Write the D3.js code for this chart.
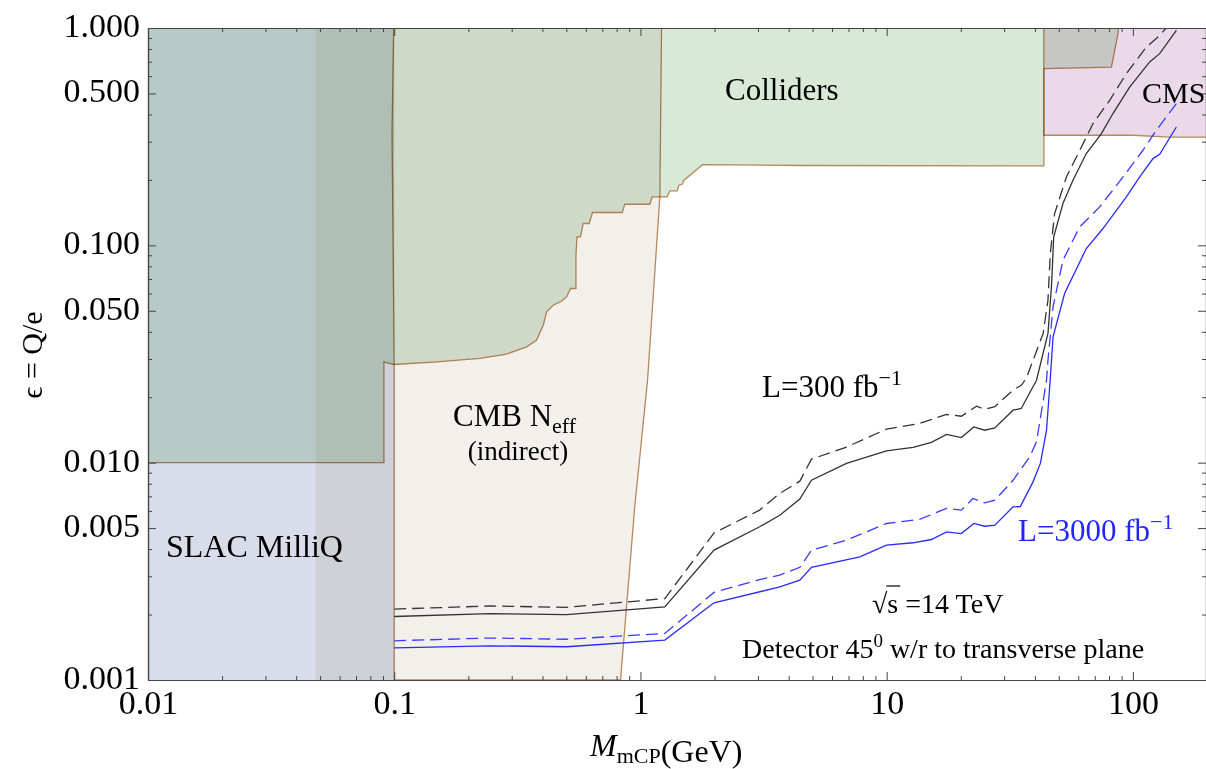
<!DOCTYPE html>
<html>
<head>
<meta charset="utf-8">
<script src="https://cdn.jsdelivr.net/npm/d3@7"></script>
<style>
  body { margin: 0; background: #fff; }
  svg text { font-family: "Liberation Serif", "Times New Roman", serif; fill: #000; }
  .region { mix-blend-mode: multiply; }
</style>
</head>
<body>
<svg id="chart" width="1206" height="769"></svg>
<script>
// ---- data (mass in GeV, epsilon = Q/e) ----
const xTicks = [0.01, 0.1, 1, 10, 100];
const xTickLabels = ["0.01", "0.1", "1", "10", "100"];
const yTicks = [0.001, 0.005, 0.01, 0.05, 0.1, 0.5, 1];
const yTickLabels = ["0.001", "0.005", "0.010", "0.050", "0.100", "0.500", "1.000"];

// excluded regions, outlines as [mass, epsilon]
const slacRegion = [[0.01, 0.001], [0.1, 0.001], [0.1, 1], [0.01, 1]];
const bandRegion = [[0.048, 0.001], [0.1, 0.001], [0.1, 1], [0.048, 1]];
const cmbRegion = [[0.0995, 1], [0.098, 0.33], [0.1, 0.028], [0.1, 0.001], [0.83, 0.001],
  [0.948, 0.00626], [1.069, 0.024], [1.199, 0.167], [1.218, 1]];
const colliderRegion = [[0.01, 1], [0.01, 0.01], [0.0908, 0.01], [0.0908, 0.0291], [0.0997, 0.0283],
  [0.149, 0.0291], [0.223, 0.0302], [0.286, 0.0316], [0.345, 0.0341], [0.378, 0.0366], [0.403, 0.0429],
  [0.416, 0.0494], [0.442, 0.053], [0.478, 0.0553], [0.501, 0.0579], [0.52, 0.0633], [0.547, 0.0633],
  [0.547, 0.0891], [0.552, 0.1093], [0.571, 0.1093], [0.585, 0.126], [0.619, 0.126], [0.639, 0.1416],
  [0.843, 0.1416], [0.864, 0.1545], [1.092, 0.1545], [1.116, 0.167], [1.283, 0.167], [1.316, 0.178],
  [1.41, 0.178], [1.432, 0.189], [1.477, 0.191], [1.5, 0.199], [1.787, 0.235], [4.44, 0.233],
  [43.5, 0.232], [43.5, 0.65], [81.8, 0.661], [87.0, 0.942], [87.4, 1]];
const cmsRegion = [[43.5, 0.321], [100, 0.321], [141, 0.315], [200, 0.315], [200, 1], [43.5, 1]];

// projected sensitivity
const mass300Dashed = [0.1, 0.245, 0.501, 1.256, 1.99, 3.05, 3.68, 4.44, 4.95, 6.87, 9.98, 13.6, 17.5,
  20.1, 23.2, 25.0, 27.5, 32.6, 35.2, 36.9, 43.2, 45.2, 46.2, 48.1, 53.7, 61.8, 68.9, 80.5, 94.1,
  113.5, 124.5, 136.8];
const eps300Dashed = [0.00212, 0.00219, 0.00216, 0.00237, 0.00475, 0.00605, 0.00722, 0.00822, 0.01038,
  0.0118, 0.01426, 0.01515, 0.01666, 0.01636, 0.0182, 0.01762, 0.0181, 0.02155, 0.0227, 0.0244, 0.0393,
  0.0559, 0.0917, 0.14, 0.2064, 0.2836, 0.3634, 0.465, 0.617, 0.818, 0.894, 1.0];

const mass300 = [0.1, 0.245, 0.501, 1.256, 1.99, 3.05, 3.68, 4.44, 4.95, 6.87, 9.98, 12.8, 15.2, 17.5,
  20.1, 22.6, 25.0, 27.5, 32.6, 35.2, 40.6, 42.5, 45.2, 46.7, 47.7, 52.0, 57.1, 64.7, 74.5, 83.0, 97.0,
  117, 128.5, 150.2];
const eps300 = [0.00196, 0.00202, 0.002, 0.00217, 0.00396, 0.00507, 0.00573, 0.0068, 0.0083, 0.00992,
  0.01133, 0.01175, 0.0124, 0.01348, 0.01305, 0.01461, 0.0141, 0.01445, 0.01744, 0.01776, 0.02396,
  0.0296, 0.0393, 0.0644, 0.1093, 0.1557, 0.1993, 0.2644, 0.3267, 0.404, 0.535, 0.698, 0.762, 0.976];

const mass3000Dashed = [0.1, 0.245, 0.501, 1.256, 1.99, 3.05, 3.68, 4.44, 4.95, 6.87, 9.98, 13.6, 17.5,
  20.1, 22.4, 25.0, 27.5, 32.6, 38.1, 40.6, 44.6, 45.2, 47.4, 52.0, 60.8, 73.3, 91.2, 109.9, 124.5, 150.2];
const eps3000Dashed = [0.001515, 0.00156, 0.00154, 0.001638, 0.00253, 0.0029, 0.00304, 0.0033, 0.00396,
  0.0044, 0.00525, 0.00548, 0.00616, 0.00605, 0.00684, 0.00653, 0.00672, 0.0083, 0.01063, 0.01247,
  0.02396, 0.0296, 0.0521, 0.0854, 0.1216, 0.1502, 0.2064, 0.2738, 0.3384, 0.449];

const mass3000 = [0.1, 0.245, 0.501, 1.256, 1.99, 3.68, 4.44, 4.95, 7.78, 9.98, 12.8, 15.2, 17.5, 20.1,
  22.6, 25.0, 27.5, 32.6, 34.9, 39.3, 42.1, 44.6, 46.2, 47.4, 52.8, 64.7, 75.6, 94.1, 106.6, 120.7,
  128.5, 150.2];
const eps3000 = [0.001406, 0.001437, 0.001422, 0.001526, 0.002265, 0.00268, 0.00288, 0.0033, 0.00369,
  0.00417, 0.00428, 0.00443, 0.0048, 0.00472, 0.00525, 0.0051, 0.00516, 0.00626, 0.00628, 0.00816,
  0.00992, 0.0141, 0.0244, 0.0379, 0.06, 0.0967, 0.1195, 0.167, 0.2064, 0.2507, 0.2624, 0.3504];

// ---- layout ----
const margin = { left: 148, top: 28, right: -1, bottom: 89 };
const W = 1206, H = 769;
const width = W - margin.left - margin.right;
const height = H - margin.top - margin.bottom;

const svg = d3.select("#chart");
const g = svg.append("g").attr("transform", `translate(${margin.left},${margin.top})`);

const x = d3.scaleLog().domain([0.01, 200]).range([0, width]);
const y = d3.scaleLog().domain([0.001, 1]).range([height, 0]);

g.append("clipPath").attr("id", "plot-clip")
  .append("rect").attr("width", width).attr("height", height);

const plot = g.append("g").attr("clip-path", "url(#plot-clip)");
const area = d3.line().x(d => x(d[0])).y(d => y(d[1]));

const borderColor = "#b5895c";
const regions = [
  { pts: slacRegion, fill: "#d8dde9", stroke: "none" },
  { pts: bandRegion, fill: "#f5f2ec", stroke: "none" },
  { pts: cmbRegion, fill: "#f3efeb", stroke: borderColor },
  { pts: colliderRegion, fill: "#d9e9d8", stroke: borderColor },
  { pts: cmsRegion, fill: "#e9d9e9", stroke: borderColor }
];
plot.selectAll("path.region")
  .data(regions)
  .enter()
  .append("path")
    .attr("class", "region")
    .attr("d", d => area(d.pts) + "Z")
    .attr("fill", d => d.fill)
    .attr("stroke", d => d.stroke)
    .attr("stroke-width", 1.3);

// sensitivity curves
const curves = [
  { m: mass300Dashed, e: eps300Dashed, color: "#333", dash: "12,6" },
  { m: mass300, e: eps300, color: "#333", dash: null },
  { m: mass3000Dashed, e: eps3000Dashed, color: "#3a3aff", dash: "12,6" },
  { m: mass3000, e: eps3000, color: "#2a2aff", dash: null }
];
plot.selectAll("path.curve")
  .data(curves)
  .enter()
  .append("path")
    .attr("class", "curve")
    .attr("d", d => area(d3.zip(d.m, d.e)))
    .attr("fill", "none")
    .attr("stroke", d => d.color)
    .attr("stroke-width", 1.3)
    .attr("stroke-dasharray", d => d.dash);

// ---- axes ----
const minor = lo => d3.range(Math.log10(lo[0]), Math.log10(lo[1]))
  .flatMap(p => d3.range(2, 10).map(k => k * Math.pow(10, p)));
const xMinor = minor([0.01, 1000]).filter(v => v < 200);
const yMinor = minor([0.001, 1]).filter(v => ![0.005, 0.05, 0.5].includes(+v.toPrecision(3)));

const axisColor = "#444";
function styleAxis(sel) {
  sel.selectAll("path").attr("stroke", axisColor).attr("stroke-width", 1.2);
  sel.selectAll("line").attr("stroke", axisColor).attr("stroke-width", 1);
  sel.selectAll("text").attr("font-family", "Liberation Serif, Times New Roman, serif")
    .attr("font-size", 34).attr("fill", "#000");
}

g.append("g").attr("transform", `translate(0,${height})`)
  .call(d3.axisBottom(x).tickValues(xMinor).tickSize(-4).tickSizeOuter(0).tickFormat(""))
  .call(styleAxis);
g.append("g").attr("transform", `translate(0,${height})`)
  .call(d3.axisBottom(x).tickValues(xTicks).tickSize(-8).tickSizeOuter(0).tickPadding(10)
    .tickFormat((d, i) => xTickLabels[i]))
  .call(styleAxis);
g.append("g")
  .call(d3.axisTop(x).tickValues(xMinor).tickSize(-4).tickSizeOuter(0).tickFormat(""))
  .call(styleAxis);
g.append("g")
  .call(d3.axisTop(x).tickValues(xTicks).tickSize(-8).tickSizeOuter(0).tickFormat(""))
  .call(styleAxis);

g.append("g")
  .call(d3.axisLeft(y).tickValues(yMinor).tickSize(-4).tickSizeOuter(0).tickFormat(""))
  .call(styleAxis);
g.append("g")
  .call(d3.axisLeft(y).tickValues(yTicks).tickSize(-8).tickSizeOuter(0).tickPadding(8)
    .tickFormat((d, i) => yTickLabels[i]))
  .call(styleAxis)
  .selectAll("text").attr("dy", "0.25em");
g.append("g").attr("transform", `translate(${width - 1},0)`)
  .call(d3.axisRight(y).tickValues(yMinor).tickSize(-4).tickSizeOuter(0).tickFormat(""))
  .call(styleAxis);
g.append("g").attr("transform", `translate(${width - 1},0)`)
  .call(d3.axisRight(y).tickValues(yTicks).tickSize(-8).tickSizeOuter(0).tickFormat(""))
  .call(styleAxis);

// ---- axis titles ----
svg.append("text")
  .attr("transform", "translate(42,355) rotate(-90)")
  .attr("text-anchor", "middle")
  .attr("font-size", 30)
  .text("\u03F5 = Q/e");

const xt = svg.append("text").attr("x", 590).attr("y", 756).attr("font-size", 32);
xt.append("tspan").attr("font-style", "italic").text("M");
xt.append("tspan").attr("font-size", 22).attr("dy", 7).text("mCP");
xt.append("tspan").attr("dy", -1).text("(GeV)");

// ---- region labels ----
svg.append("text").attr("x", 725).attr("y", 100).attr("font-size", 31).text("Colliders");
svg.append("text").attr("x", 1142).attr("y", 103).attr("font-size", 30).text("CMS");
const cmb = svg.append("text").attr("x", 453).attr("y", 426).attr("font-size", 31);
cmb.append("tspan").text("CMB N");
cmb.append("tspan").attr("font-size", 22).attr("dy", 7).text("eff");
svg.append("text").attr("x", 518).attr("y", 460).attr("text-anchor", "middle")
  .attr("font-size", 27).text("(indirect)");
svg.append("text").attr("x", 166).attr("y", 557).attr("font-size", 32).text("SLAC MilliQ");

const l300 = svg.append("text").attr("x", 762).attr("y", 397).attr("font-size", 31);
l300.append("tspan").text("L=300 fb");
l300.append("tspan").attr("font-size", 22).attr("dy", -12).text("\u22121");

const l3000 = svg.append("text").attr("x", 1018).attr("y", 541).attr("font-size", 31)
  .style("fill", "#2424ff");
l3000.append("tspan").text("L=3000 fb");
l3000.append("tspan").attr("font-size", 22).attr("dy", -12).text("\u22121");

const rs = svg.append("text").attr("x", 872).attr("y", 613).attr("font-size", 28).text("\u221As =14 TeV");
const rootW = rs.node().getSubStringLength(0, 1);
const sW = rs.node().getSubStringLength(1, 1);
svg.append("line")
  .attr("x1", 872 + rootW - 1).attr("x2", 872 + rootW + sW + 2)
  .attr("y1", 613 - 27).attr("y2", 613 - 27)
  .attr("stroke", "#000").attr("stroke-width", 1.2);

const det = svg.append("text").attr("x", 742).attr("y", 658).attr("font-size", 28);
det.append("tspan").text("Detector 45");
det.append("tspan").attr("font-size", 19).attr("dy", -11).text("0");
det.append("tspan").attr("dy", 11).text(" w/r to transverse plane");
</script>
</body>
</html>
